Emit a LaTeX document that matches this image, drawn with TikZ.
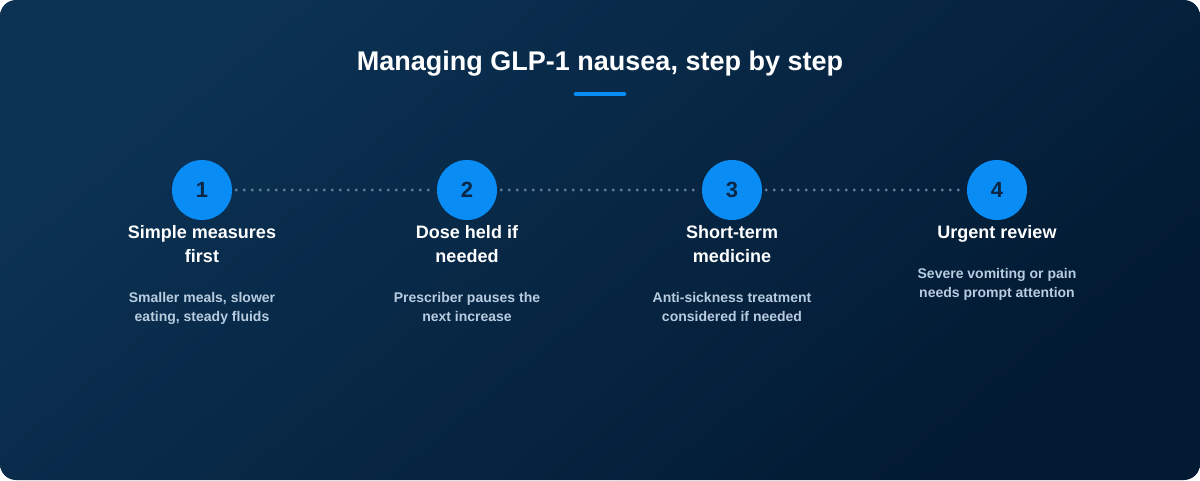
\documentclass[tikz,border=0pt]{standalone}
\usepackage{fontspec}
\setmainfont{Liberation Sans}
\definecolor{bgA}{HTML}{0C3254}
\definecolor{bgB}{HTML}{021A33}
\definecolor{accent}{HTML}{0A8CF5}
\definecolor{numcol}{HTML}{0B2746}
\definecolor{desccol}{HTML}{B8CCE0}
\definecolor{dotcol}{HTML}{5F7C98}
\tikzset{
  stepcircle/.style={circle, fill=accent, minimum size=60pt, inner sep=0pt,
    font=\fontsize{22}{26}\selectfont\bfseries, text=numcol},
  steptitle/.style={anchor=base, align=center, inner sep=0pt, text=white,
    font=\fontsize{18}{24}\selectfont\bfseries},
  stepdesc/.style={anchor=base, align=center, inner sep=0pt, text=desccol,
    font=\fontsize{14}{19}\selectfont\bfseries},
  dotline/.style={draw=dotcol, line width=3.2pt, line cap=round, dash pattern=on 0pt off 8pt}
}
\begin{document}
\begin{tikzpicture}[x=1pt,y=-1pt]
\useasboundingbox (0,0) rectangle (1200,480);
\shade[rounded corners=16pt, top color=bgA, bottom color=bgB, shading angle=40] (0,0) rectangle (1200,480);
\node[anchor=base, text=white, inner sep=0pt, font=\fontsize{27}{32}\selectfont\bfseries] (title) at (600,70) {Managing GLP-1 nausea, step by step};
\draw[accent, line width=3.5pt, line cap=round] (575.5,94) -- (624.5,94);
\node[stepcircle] (c1) at (202,190) {1};
\node[stepcircle] (c2) at (467,190) {2};
\node[stepcircle] (c3) at (732,190) {3};
\node[stepcircle] (c4) at (997,190) {4};
\draw[dotline] ([xshift=4pt]c1.east) -- ([xshift=-2pt]c2.west);
\draw[dotline] ([xshift=4pt]c2.east) -- ([xshift=-2pt]c3.west);
\draw[dotline] ([xshift=4pt]c3.east) -- ([xshift=-2pt]c4.west);
\node[steptitle] (t1) at (202,262) {Simple measures\\first};
\node[steptitle] (t2) at (467,262) {Dose held if\\needed};
\node[steptitle] (t3) at (732,262) {Short-term\\medicine};
\node[steptitle] (t4) at (997,238) {Urgent review};
\node[stepdesc] (d1) at (202,321) {Smaller meals, slower\\eating, steady fluids};
\node[stepdesc] (d2) at (467,321) {Prescriber pauses the\\next increase};
\node[stepdesc] (d3) at (732,321) {Anti-sickness treatment\\considered if needed};
\node[stepdesc] (d4) at (997,297) {Severe vomiting or pain\\needs prompt attention};
\end{tikzpicture}
\end{document}
